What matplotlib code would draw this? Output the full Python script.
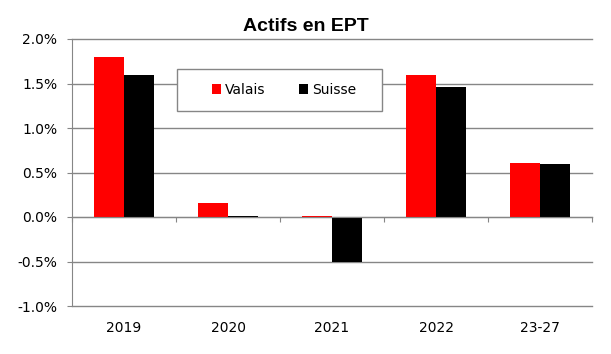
import numpy as np
import matplotlib.pyplot as plt
from matplotlib.patches import Rectangle
from matplotlib.ticker import FuncFormatter

categories = ["2019", "2020", "2021", "2022", "23-27"]
valais = [1.80, 0.16, 0.01, 1.60, 0.61]
suisse = [1.59, 0.015, -0.50, 1.46, 0.59]
yticks = [-1.0, -0.5, 0.0, 0.5, 1.0, 1.5, 2.0]

plt.rcParams['font.family'] = ['DejaVu Sans']
grey = "#868686"

fig = plt.figure(figsize=(6.11, 3.54), dpi=100)
ax = fig.add_axes([72 / 611, 1 - 306 / 354, 520 / 611, 267 / 354])

x = np.arange(len(categories))
w = 0.285
ax.bar(x - w / 2, valais, w, color="#ff0000", label="Valais", zorder=3)
ax.bar(x + w / 2, suisse, w, color="#000000", label="Suisse", zorder=3)

ax.set_xlim(-0.5, len(categories) - 0.5)
ax.set_ylim(-1.0, 2.0)
ax.set_yticks(yticks)
ax.yaxis.set_major_formatter(FuncFormatter(lambda v, p: f"{v:.1f}%"))
ax.grid(axis="y", color=grey, linewidth=1, zorder=0)
for gl in ax.get_ygridlines():
    gl.set_clip_on(False)
ax.tick_params(axis="y", length=3.6, color=grey, labelsize=10, pad=7)

# category axis crosses at zero, ticks between categories
for s in ("top", "right"):
    ax.spines[s].set_visible(False)
ax.spines["left"].set_color(grey)
ax.spines["bottom"].set_position(("data", 0))
ax.spines["bottom"].set_color(grey)
ax.spines["bottom"].set_zorder(4)
ax.set_xticks(np.arange(len(categories) + 1) - 0.5)
ax.set_xticklabels([])
ax.tick_params(axis="x", length=3.6, color=grey, direction="out")

sec = ax.secondary_xaxis(location=0.0)
sec.set_xticks(x)
sec.set_xticklabels(categories)
sec.tick_params(length=0, labelsize=10, pad=11)
sec.spines["bottom"].set_visible(False)

fig.text(0.5, 1 - 31 / 354, "Actifs en EPT", ha="center", va="baseline",
         fontsize=14, fontweight="bold",
         family=["Liberation Sans", "DejaVu Sans"])

# legend box drawn separately (Excel-style wide padding)
ax.add_patch(Rectangle((0.202, 0.729), 0.394, 0.159, transform=ax.transAxes,
                       facecolor="white", edgecolor=grey, linewidth=1,
                       zorder=5, clip_on=False))
leg = ax.legend(loc="center", bbox_to_anchor=(0.408, 0.809), ncol=2, frameon=False,
                fontsize=10, handlelength=0.65, handleheight=0.65,
                columnspacing=2.4, handletextpad=0.3, borderpad=0,
                borderaxespad=0)
leg.set_zorder(6)

fig.savefig("out.png", dpi=100)
